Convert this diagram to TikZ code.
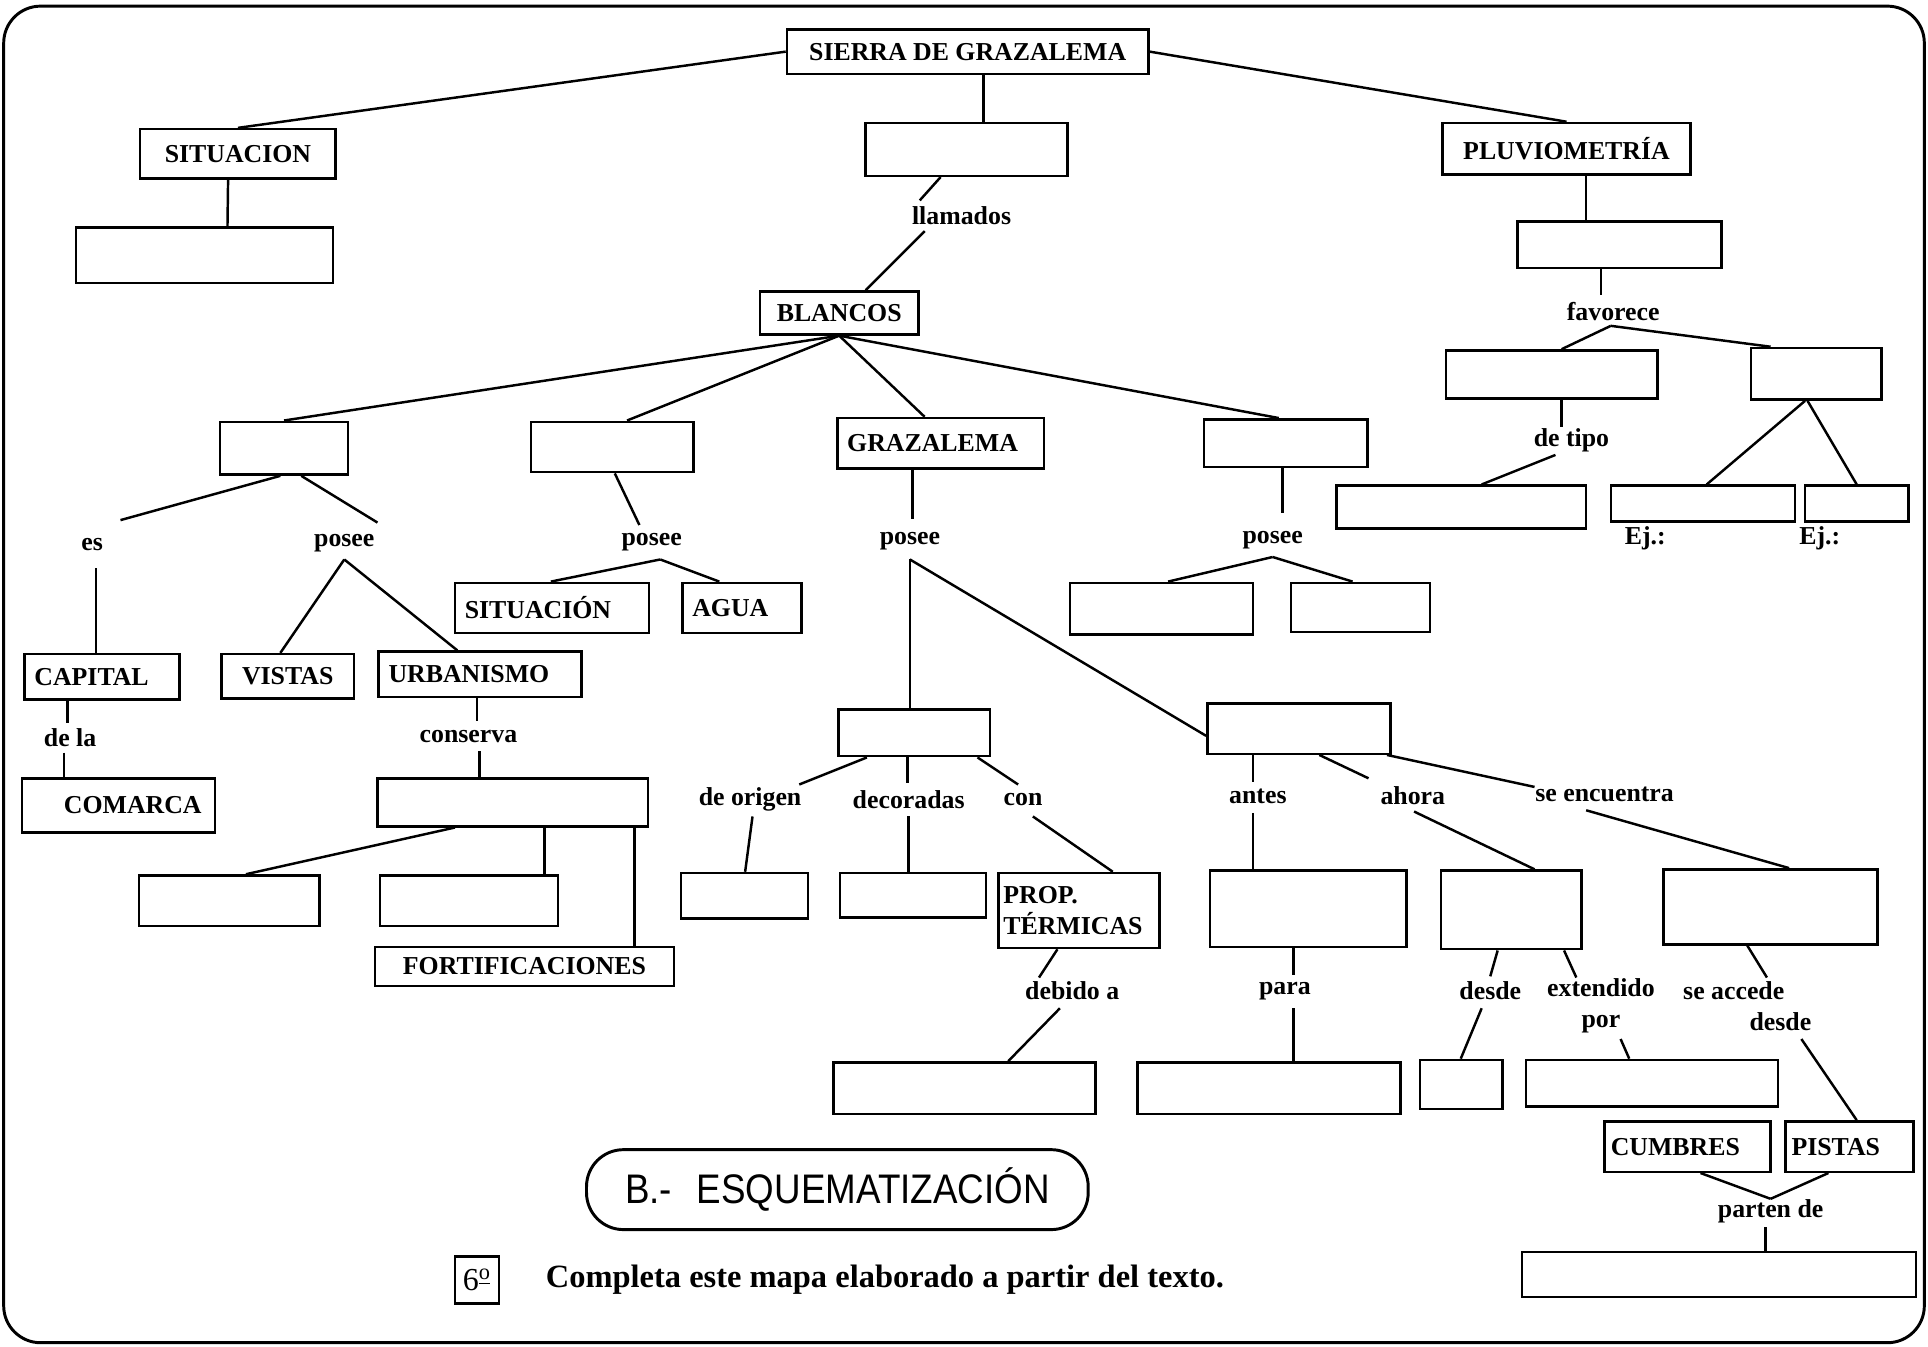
\documentclass[tikz,border=0pt]{standalone}
\usepackage{fontspec}
\setmainfont{Liberation Serif}
\newfontfamily\esqfont[FakeStretch=0.89]{Liberation Sans}
\usetikzlibrary{calc}
\newcommand{\mfs}{\fontsize{10.5}{12.6}\selectfont\bfseries}
\begin{document}
\begin{tikzpicture}[x=0.5pt,y=-0.5pt, line width=1pt,
  box/.style={draw, line width=1pt, inner xsep=4pt, inner ysep=1pt, font=\mfs, align=center},
  sz/.style 2 args={minimum width=#1*0.5pt, minimum height=#2*0.5pt},
  lbl/.style={inner sep=0pt, font=\mfs},
  ]
\useasboundingbox (0,0) rectangle (1568,1095);
\draw[line width=1.2pt, rounded corners=15pt] (3,5) rectangle (1565,1092);

% nodes
\node[box,sz={294}{36}] (sierra) at (787,42) {SIERRA DE GRAZALEMA};
\node[box,sz={159}{40}] (situ) at (193.5,125) {SITUACION};
\node[box,sz={209}{45}] (situb) at (166.5,207.5) {};
\node[box,sz={164}{43}] (cbox) at (786,121.5) {};
\node[lbl] (llamados) at (782,175) {llamados};
\node[box,sz={129}{35}] (blancos) at (682.5,254.5) {BLANCOS};
\node[box,sz={202}{42}] (pluv) at (1274,121) {PLUVIOMETRÍA};
\node[box,sz={166}{38}] (pb1) at (1317,199) {};
\node[lbl] (favorece) at (1312,253) {favorece};
\node[box,sz={172}{39}] (pfl) at (1262,304.5) {};
\node[box,sz={106}{42}] (pfr) at (1477,304) {};
\node[lbl] (detipo) at (1278,358) {de tipo};
\node[box,sz={203}{35}] (ptipo) at (1188.5,412.5) {};
\node[box,sz={150}{29}] (pej1) at (1385,409.5) {};
\node[box,sz={84}{29}] (pej2) at (1510,409.5) {};
\node[lbl] (ej1) at (1338,438) {Ej.:};
\node[lbl] (ej2) at (1480,438) {Ej.:};

\node[box,sz={104}{43}] (b1) at (231,364.5) {};
\node[box,sz={132}{41}] (b2) at (498,363.5) {};
\node[box,sz={168}{41},text width=76pt,align=left] (graz) at (765,360.5) {GRAZALEMA};
\node[box,sz={133}{39}] (b4) at (1045.5,360.5) {};
\node[lbl] (es) at (75,443) {es};
\node[lbl] (posee1) at (280,442) {posee};
\node[box,sz={126}{37},text width=55pt,align=left] (capital) at (83,550.5) {CAPITAL};
\node[lbl] (dela) at (57,600) {de la};
\node[box,sz={157}{44},text width=70.5pt,align=left] (comarca) at (96.5,655) {\hspace*{13pt}COMARCA};
\node[box,sz={108}{36}] (vistas) at (234,550) {VISTAS};
\node[box,sz={165}{37},text width=74.5pt,align=left] (urban) at (390.5,548.5) {URBANISMO};
\node[lbl] (conserva) at (381,599) {conserva};
\node[box,sz={220}{39}] (cons) at (417,652.5) {};
\node[box,sz={147}{41}] (u1) at (186.5,732.5) {};
\node[box,sz={145}{41}] (u2) at (381.5,732.5) {};
\node[box,sz={243}{32}] (fort) at (426.5,786) {FORTIFICACIONES};
\node[lbl] (posee2) at (530,441) {posee};
\node[box,sz={158}{41},text width=71pt,align=left] (sit2) at (449,494.5) {SITUACIÓN};
\node[box,sz={97}{41},text width=40.5pt,align=left] (agua) at (603.5,494.5) {AGUA};
\node[lbl] (posee3) at (740,440) {posee};
\node[lbl] (posee4) at (1035,439) {posee};
\node[box,sz={149}{42}] (p4l) at (944.5,495) {};
\node[box,sz={113}{40}] (p4r) at (1106.5,494) {};
\node[box,sz={123}{38}] (gb) at (743.5,596) {};
\node[box,sz={149}{41}] (se) at (1056.5,592.5) {};
\node[lbl] (deorigen) at (610,650) {de origen};
\node[lbl] (decoradas) at (739,650) {decoradas};
\node[lbl] (con) at (832,650) {con};
\node[box,sz={103}{37}] (orig) at (605.5,728.5) {};
\node[box,sz={119}{36}] (deco) at (742.5,728) {};
\node[box,sz={131}{61},inner xsep=2pt,text width=61.5pt,align=left] (prop) at (877.5,740.5) {PROP.\\TÉRMICAS};
\node[lbl] (debidoa) at (872,806) {debido a};
\node[box,sz={213}{42}] (debbox) at (784.5,885) {};
\node[lbl] (antes) at (1023,648) {antes};
\node[lbl] (ahora) at (1149,647) {ahora};
\node[lbl] (seenc) at (1305,646) {se encuentra};
\node[box,sz={160}{62}] (antesbox) at (1064,739) {};
\node[box,sz={114}{64}] (ahorabox) at (1229,740) {};
\node[box,sz={174}{61}] (encbox) at (1440,737.5) {};
\node[lbl] (para) at (1045,806) {para};
\node[lbl] (desde) at (1212,806) {desde};
\node[lbl,align=center] (extpor) at (1302,818) {extendido\\por};
\node[lbl] (seaccede) at (1410,806) {se accede};
\node[lbl] (desde2) at (1448,831) {desde};
\node[box,sz={214}{42}] (parabox) at (1032,885) {};
\node[box,sz={67}{40}] (desdebox) at (1188.5,882) {};
\node[box,sz={205}{38}] (extbox) at (1343.5,881) {};
\node[box,sz={135}{41},inner xsep=2.5pt,text width=62.5pt,align=left] (cumbres) at (1372.5,932.5) {CUMBRES};
\node[box,sz={104}{41},inner xsep=2.5pt,text width=47pt,align=left] (pistas) at (1504,932.5) {PISTAS};
\node[lbl] (partende) at (1440,985) {parten de};
\node[box,sz={320}{37}] (partenbox) at (1398,1036.5) {};
\node[draw,line width=1.2pt,rounded corners=15pt,sz={408}{65},font=\esqfont\fontsize{16.8}{20}\selectfont] (esq) at (681,967.5) {B.-\hspace{0.6em}ESQUEMATIZACIÓN};
\node[box,sz={36}{38},inner xsep=1pt,font=\fontsize{13}{15}\selectfont] (six) at (388,1041) {6\textsuperscript{\underline{o}}};
\node[lbl,anchor=west,font=\fontsize{13.2}{15}\selectfont\bfseries] (completa) at (443,1041) {Completa este mapa elaborado a partir del texto.};

% connectors
\draw (sierra.west) -- (situ.north);
\draw ($(sierra.south)+(13,0)$) -- ($(cbox.north)+(14,0)$);
\draw (sierra.east) -- (pluv.north);
\draw ($(situ.south)+(-8,0)$) -- ($(situb.north)+(18.5,0)$);
\draw ($(cbox.south)+(-21,0)$) -- ($(llamados)+(-34,-12)$);
\draw ($(llamados)+(-30,13)$) -- ($(blancos.north)+(21.5,0)$);
\draw ($(pluv.south)+(16,0)$) -- ($(pb1.north)+(-27,0)$);
\draw ($(pb1.south)+(-15,0)$) -- ($(favorece)+(-10,-13)$);
\draw ($(favorece)+(-2,12)$) -- ($(pfl.north)+(8,0)$);
\draw ($(favorece)+(-2,12)$) -- ($(pfr.north)+(-37,0)$);
\draw ($(pfl.south)+(8,0)$) -- ($(detipo)+(-8,-11)$);
\draw ($(detipo)+(-13,12)$) -- ($(ptipo.north)+(16.5,0)$);
\draw ($(pfr.south)+(-9,0)$) -- ($(pej1.north)+(3,0)$);
\draw ($(pfr.south)+(-7,0)$) -- (pej2.north);

\draw (blancos.south) -- (b1.north);
\draw (blancos.south) -- ($(b2.north)+(12,0)$);
\draw (blancos.south) -- ($(graz.north)+(-13,0)$);
\draw (blancos.south) -- ($(b4.north)+(-5.5,0)$);

\draw ($(b1.south)+(-3,0)$) -- ($(es)+(23,-20)$);
\draw ($(b1.south)+(14,0)$) -- ($(posee1)+(27,-17)$);
\draw ($(es)+(3,19)$) -- ($(capital.north)+(-5,0)$);
\draw ($(posee1)+(0,13)$) -- ($(vistas.north)+(-6,0)$);
\draw ($(posee1)+(0,13)$) -- ($(urban.north)+(-18.5,0)$);
\draw ($(capital.south)+(-28,0)$) -- ($(dela)+(-2,-12)$);
\draw ($(dela)+(-5,12)$) -- ($(comarca.north)+(-44.5,0)$);
\draw ($(urban.south)+(-2.5,0)$) -- ($(conserva)+(7,-13)$);
\draw ($(conserva)+(9,12)$) -- ($(cons.north)+(-27,0)$);
\draw ($(cons.south)+(-47,0)$) -- ($(u1.north)+(13.5,0)$);
\draw ($(cons.south)+(26,0)$) -- ($(u2.north)+(61.5,0)$);
\draw ($(cons.south)+(99,0)$) -- ($(fort.north)+(89.5,0)$);

\draw ($(b2.south)+(2,0)$) -- ($(posee2)+(-10,-14)$);
\draw ($(posee2)+(7,14)$) -- ($(sit2.north)+(-1,0)$);
\draw ($(posee2)+(7,14)$) -- ($(agua.north)+(-18.5,0)$);

\draw ($(graz.south)+(-23,0)$) -- ($(posee3)+(2,-18)$);
\draw ($(posee3)+(0,15)$) -- ($(gb.north)+(-3.5,0)$);
\draw ($(posee3)+(0,15)$) -- ($(se.west)+(0,6)$);

\draw ($(b4.south)+(-2.5,0)$) -- ($(posee4)+(8,-22)$);
\draw ($(posee4)+(0,14)$) -- ($(p4l.north)+(5.5,0)$);
\draw ($(posee4)+(0,14)$) -- ($(p4r.north)+(-6.5,0)$);

\draw ($(gb.south)+(-38.5,0)$) -- ($(deorigen)+(40,-12)$);
\draw ($(gb.south)+(-5.5,0)$) -- ($(decoradas)+(-1,-13)$);
\draw ($(gb.south)+(51.5,0)$) -- ($(con)+(-4,-12)$);
\draw ($(deorigen)+(2,14)$) -- ($(orig.north)+(0.5,0)$);
\draw ($(decoradas)+(0,14)$) -- ($(deco.north)+(-3.5,0)$);
\draw ($(con)+(8,14)$) -- ($(prop.north)+(27.5,0)$);
\draw ($(prop.south)+(-17.5,0)$) -- ($(debidoa)+(-27,-11)$);
\draw ($(debidoa)+(-10,14)$) -- ($(debbox.north)+(35.5,0)$);

\draw ($(se.south)+(-37.5,0)$) -- ($(antes)+(-4,-12)$);
\draw ($(se.south)+(16.5,0)$) -- ($(ahora)+(-36,-14)$);
\draw ($(se.south)+(71.5,0)$) -- ($(seenc)+(-57,-6)$);
\draw ($(antes)+(-4,13)$) -- ($(antesbox.north)+(-45,0)$);
\draw ($(ahora)+(1,13)$) -- ($(ahorabox.north)+(19,0)$);
\draw ($(seenc)+(-15,13)$) -- ($(encbox.north)+(15,0)$);
\draw ($(antesbox.south)+(-12,0)$) -- ($(para)+(7,-13)$);
\draw ($(para)+(7,14)$) -- ($(parabox.north)+(20,0)$);
\draw ($(ahorabox.south)+(-11,0)$) -- ($(desde)+(0,-12)$);
\draw ($(desde)+(-7,14)$) -- ($(desdebox.north)+(-0.5,0)$);
\draw ($(ahorabox.south)+(43,0)$) -- ($(extpor)+(-20,-23)$);
\draw ($(extpor)+(16,27)$) -- ($(extbox.north)+(-18.5,0)$);
\draw ($(encbox.south)+(-19,0)$) -- ($(seaccede)+(27,-11)$);
\draw ($(desde2)+(17,14)$) -- ($(pistas.north)+(6,0)$);
\draw ($(cumbres.south)+(10.5,0)$) -- ($(partende)+(0,-10)$);
\draw ($(pistas.south)+(-17,0)$) -- ($(partende)+(0,-10)$);
\draw ($(partende)+(-4,13)$) -- ($(partenbox.north)+(38,0)$);
\end{tikzpicture}
\end{document}
